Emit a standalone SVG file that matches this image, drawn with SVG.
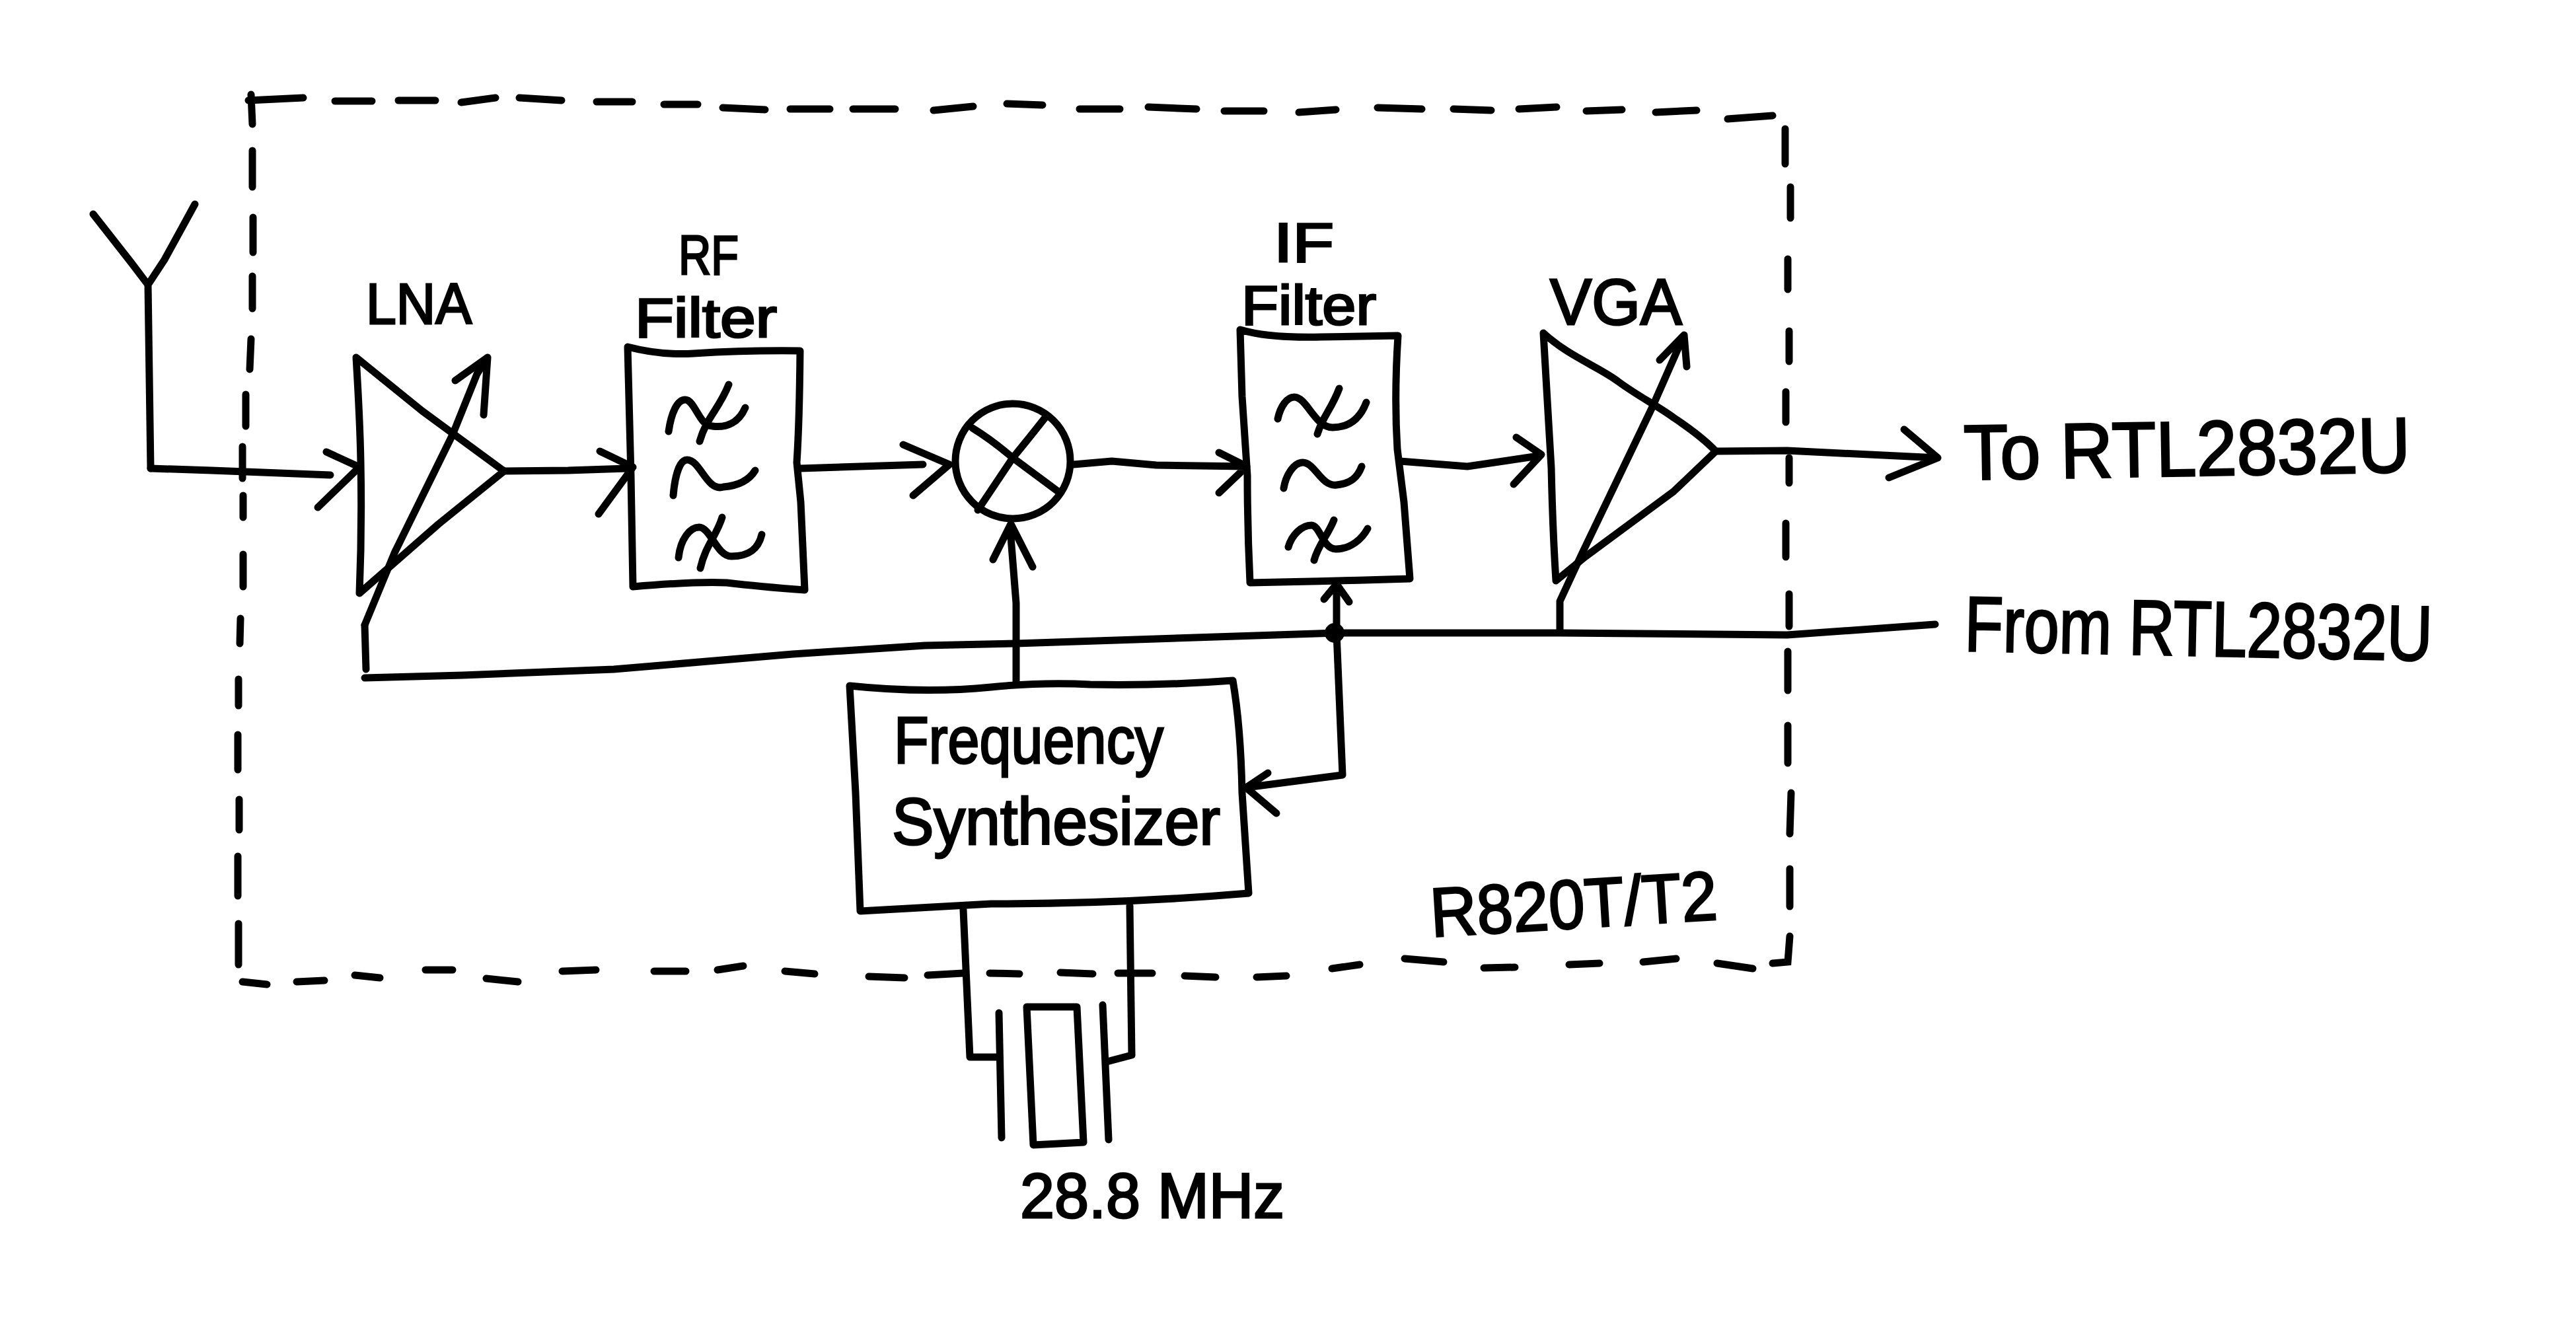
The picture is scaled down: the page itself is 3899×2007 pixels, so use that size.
<svg xmlns="http://www.w3.org/2000/svg" width="3899" height="2007" viewBox="0 0 3899 2007">
<style>
.l{fill:none;stroke:#000;stroke-width:11;stroke-linecap:round;stroke-linejoin:round}
.d{fill:none;stroke:#000;stroke-width:11;stroke-linecap:round}
.t{fill:#000;stroke:#000;stroke-width:3;font-family:"Liberation Sans",Arial,sans-serif}
</style>
<rect width="3899" height="2007" fill="#fff"/>
<g id="frame">
<path class="d" d="M380 143L382 188M382 228V283M383 329V382M382 418V467M380 513L378 559M372 597V645M367 676V724M368 750V783M368 839V888M364 936L363 974M361 1028V1068M360 1112V1165M362 1210V1256M360 1296V1356M361 1398V1460"/>
<path class="d" d="M376 152L459 148M507 153H563M603 152H659M698 155L750 148M786 148L850 152M903 154H957M1005 158H1056M1094 163L1158 166M1196 165H1256M1291 165H1355M1413 167L1473 161M1524 157L1578 159M1634 165H1695M1738 162L1811 165M1853 168H1913M1966 170L2022 166M2085 163L2152 165M2200 165L2257 167M2299 165L2356 162M2401 168L2455 166M2506 170L2568 167M2615 180L2683 175"/>
<path class="d" d="M2702 195V248M2710 283V330M2706 392V438M2708 501V547M2703 593V639M2708 693V731M2703 792V843M2708 899V948M2706 986V1045M2706 1098V1155M2711 1200L2709 1262M2709 1315V1372M2709 1417L2706 1456L2683 1458"/>
<path class="d" d="M367 1486L404 1490M449 1486L491 1484M537 1476L575 1480M644 1468H685M736 1481L784 1486M851 1470L902 1468M990 1470H1038M1086 1468L1125 1462M1188 1470L1233 1474M1315 1478L1369 1480M1404 1476L1458 1473M1498 1473L1543 1474M1605 1472L1654 1474M1692 1473H1744M1793 1477L1840 1479M1902 1479L1947 1477M2016 1466L2058 1460M2126 1451L2185 1456M2246 1465L2293 1464M2375 1460L2421 1458M2487 1456L2537 1451M2599 1458L2653 1466"/>
<text class="t" transform="rotate(-3.5 2167 1418)" x="2167" y="1418" textLength="435" lengthAdjust="spacingAndGlyphs" style="font-size:105px">R820T/T2</text>
</g>
<g id="antenna">
<path class="l" d="M141 324L199 398L224 431M295 309L249 393L224 431L228 709"/>
</g>
<g id="lna">
<path class="l" d="M539 541L639 622L763 713L664 793L544 898Q548 800 546 700Q545 640 539 541Z"/>
<text class="t" x="554" y="490" textLength="160" lengthAdjust="spacingAndGlyphs" style="font-size:88px">LNA</text>
</g>
<g id="rf-filter">
<path class="l" d="M950 525Q1000 538 1050 535Q1130 530 1211 531Q1210 640 1206 700L1212 760L1218 893Q1150 888 1100 882Q1050 880 958 888L955 720L950 525Z"/>
<path class="l" d="M1012 653C1016 625 1025 605 1037 605C1052 605 1058 645 1078 645C1100 648 1118 640 1128 617M1103 582C1088 620 1070 630 1059 668"/>
<path class="l" d="M1019 750C1022 715 1030 696 1040 696C1060 696 1070 745 1095 737C1120 735 1135 725 1143 712"/>
<path class="l" d="M1027 844C1030 815 1045 798 1058 798C1075 798 1085 842 1107 842C1135 842 1148 830 1153 809M1093 783C1085 810 1068 825 1060 860"/>
<text class="t" x="1027" y="415" textLength="91" lengthAdjust="spacingAndGlyphs" style="font-size:84px">RF</text>
<text class="t" x="961" y="510" textLength="215" lengthAdjust="spacingAndGlyphs" style="font-size:84px">Filter</text>
</g>
<g id="mixer">
<circle class="l" cx="1533" cy="698" r="87"/>
<path class="l" d="M1472 648Q1500 665 1533 693L1603 745M1582 632Q1560 660 1533 693L1480 772"/>
</g>
<g id="if-filter">
<path class="l" d="M1877 499Q1920 512 2000 510L2116 508Q2110 600 2115 680L2125 760L2134 876Q2000 880 1892 882Q1888 800 1888 720L1880 600Z"/>
<path class="l" d="M1934 634C1938 615 1948 601 1959 601C1978 601 1990 647 2017 647C2045 647 2060 630 2068 609M2027 588C2015 620 2002 630 1994 657"/>
<path class="l" d="M1943 739C1946 720 1958 700 1972 700C1990 700 2000 737 2023 734C2045 732 2055 722 2061 706"/>
<path class="l" d="M1950 828C1955 810 1970 795 1985 795C1998 795 2002 831 2022 831C2045 831 2062 815 2070 800M2019 787C2010 810 1995 825 1989 848"/>
<text class="t" x="1928" y="396" textLength="91" lengthAdjust="spacingAndGlyphs" style="font-size:84px">IF</text>
<text class="t" x="1879" y="491" textLength="204" lengthAdjust="spacingAndGlyphs" style="font-size:84px">Filter</text>
</g>
<g id="vga">
<path class="l" d="M2336 504C2375 540 2420 555 2450 578C2480 600 2510 615 2533 632C2560 650 2580 665 2597 683L2533 744L2399 843L2355 879Q2350 800 2348 708Q2342 600 2336 504Z"/>
<text class="t" x="2346" y="491" textLength="200" lengthAdjust="spacingAndGlyphs" style="font-size:98px">VGA</text>
</g>
<g id="synth">
<path class="l" d="M1286 1038Q1400 1050 1500 1040Q1580 1032 1650 1036Q1760 1038 1866 1030Q1878 1100 1880 1200L1890 1352Q1700 1368 1500 1368L1302 1379L1295 1200Z"/>
<text class="t" x="1353" y="1155" textLength="408" lengthAdjust="spacingAndGlyphs" style="font-size:100px">Frequency</text>
<text class="t" x="1350" y="1278" textLength="497" lengthAdjust="spacingAndGlyphs" style="font-size:100px">Synthesizer</text>
</g>
<g id="crystal">
<path class="l" d="M1554 1524H1630L1640 1729L1564 1733Z"/>
<path class="l" d="M1512 1533L1516 1722M1669 1521L1678 1725"/>
<text class="t" x="1544" y="1843" textLength="400" lengthAdjust="spacingAndGlyphs" style="font-size:96px">28.8 MHz</text>
</g>
<g id="labels">
<text class="t" x="2973" y="726" textLength="676" lengthAdjust="spacingAndGlyphs" transform="rotate(-1 2973 726)" style="font-size:118px">To RTL2832U</text>
<text class="t" x="2973" y="985" textLength="708" lengthAdjust="spacingAndGlyphs" transform="rotate(1.2 2973 985)" style="font-size:118px">From RTL2832U</text>
</g>
<g id="connectors">
<path class="l" d="M228 709L320 712L500 719M494 684L544 707L481 768"/>
<path class="l" d="M763 713L860 712L950 709M908 683L958 707L906 778"/>
<path class="l" d="M1211 709L1397 703M1367 673L1437 703L1382 750"/>
<path class="l" d="M1625 703L1683 698L1750 704L1887 706M1845 685L1887 706L1845 746"/>
<path class="l" d="M2119 698L2221 706L2329 690M2295 662L2333 688L2291 733"/>
<path class="l" d="M2597 683L2705 682L2933 693M2882 650L2933 693L2859 723"/>
<path class="l" d="M1538 1033V913L1530 813V793M1503 847L1530 793L1563 858"/>
<path class="l" d="M552 946L554 1013M552 1026L700 1022L929 1013L1200 990L1400 977L1538 974L2023 958L2361 958L2705 961L2929 945"/>
<path class="l" d="M552 946L597 837L685 658L722 566L738 541M689 576L738 541L732 628"/>
<path class="l" d="M2361 956V910L2393 841L2501 616L2549 507M2512 545L2549 507L2553 555"/>
<path class="l" d="M2023 884V958L2032 1173L1886 1192M2004 907L2023 884L2042 911M1919 1170L1886 1192L1932 1231"/>
<circle cx="2020" cy="958" r="15" fill="#000"/>
<path class="l" d="M1458 1377L1468 1600H1512M1710 1371L1713 1597L1675 1607"/>
</g>
</svg>
